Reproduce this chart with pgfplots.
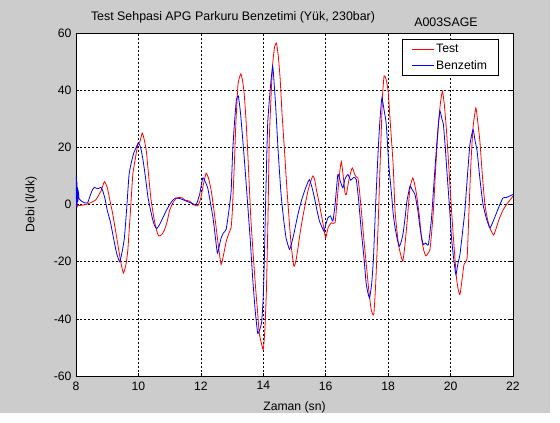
\documentclass[border=0pt]{standalone}
\usepackage{pgfplots}
\pgfplotsset{compat=1.18}
\usepackage{fontspec}
\setmainfont{Liberation Sans}
\definecolor{figgrey}{RGB}{204,204,204}
\begin{document}
\begin{tikzpicture}[x=1pt,y=1pt]
\fill[white] (0,0) rectangle (560,423);
\fill[figgrey] (0,10) rectangle (550,423);
\node[font=\fontsize{12.4}{14}\selectfont,anchor=base] at (233,402) {Test Sehpasi APG Parkuru Benzetimi (Yük, 230bar)};
\node[font=\fontsize{12.4}{14}\selectfont,anchor=base] at (446,396) {A003SAGE};
\begin{axis}[
  at={(76pt,47pt)}, anchor=south west,
  width=437pt, height=343pt, scale only axis,
  xmin=8, xmax=22, ymin=-60, ymax=60,
  xtick={8,10,...,22}, ytick={-60,-40,...,60},
  yticklabels={{-60},{-40},{-20},{0},{20},{40},{60}},
  xticklabels={8,10,12,14,16,18,20,22},
  tick align=inside, major tick length=3pt,
  tick style={black, line width=0.5pt},
  axis background/.style={fill=white},
  axis line style={black, line width=0.6pt},
  grid=major,
  major grid style={black, line width=0.5pt, dash pattern=on 2pt off 2pt},
  ticklabel style={font=\fontsize{12.2}{14}\selectfont},
  xticklabel style={yshift=-2pt},
  yticklabel style={xshift=-1pt},
  xlabel={Zaman (sn)}, ylabel={Debi (l/dk)},
  label style={font=\fontsize{12.2}{14}\selectfont},
  xlabel style={yshift=-5pt},
  ylabel style={yshift=10pt},
  legend style={at={(rel axis cs:0.746,0.982)}, anchor=north west, fill=white,
    font=\fontsize{12.2}{14}\selectfont, inner xsep=9pt, inner ysep=3pt, row sep=2pt},
  legend cell align=left,
]
\addplot[red, line width=0.8pt, smooth, tension=0.3, forget plot] coordinates {
(8.0,-0.5) (8.15,-0.3) (8.32,0) (8.5,0.8) (8.64,1.7) (8.8,4.7) (8.91,8) (9.0,6) (9.07,2.3) (9.18,-3.5)
(9.34,-14) (9.45,-21) (9.52,-24) (9.6,-21) (9.66,-16) (9.74,-3) (9.82,10.5) (9.9,16) (9.98,21) (10.05,22)
(10.12,25) (10.18,23) (10.25,19) (10.32,11) (10.4,2) (10.5,-5) (10.58,-9) (10.65,-11) (10.75,-10.5) (10.83,-9)
(10.92,-6) (11.0,-2) (11.1,0.5) (11.2,2) (11.3,2.5) (11.4,2.3) (11.5,1.5) (11.64,1.2) (11.75,0) (11.9,-0.5)
(12.0,2.3) (12.08,7) (12.17,11) (12.25,9) (12.33,5) (12.42,-2) (12.5,-9) (12.58,-16) (12.65,-21) (12.72,-18)
(12.81,-13) (12.9,-10) (12.97,-8) (13.01,-2) (13.08,16) (13.12,28) (13.19,42) (13.28,45.7) (13.34,43) (13.39,38.5)
(13.45,29) (13.5,18.7) (13.55,7) (13.6,-4.7) (13.68,-18) (13.76,-30) (13.82,-38) (13.87,-45) (13.95,-49) (14.0,-50.7)
(14.05,-44) (14.1,-30) (14.15,-5) (14.19,22) (14.25,38) (14.3,49) (14.36,55) (14.42,56.5) (14.48,52) (14.54,44)
(14.6,32) (14.68,18.7) (14.76,5) (14.84,-7) (14.9,-15) (14.98,-21.6) (15.04,-20) (15.1,-16) (15.18,-10) (15.26,-4.7)
(15.35,0.5) (15.43,4.7) (15.5,7.5) (15.59,10) (15.65,8.5) (15.71,4.7) (15.8,0) (15.88,-4.7) (15.95,-9) (16.0,-11.7)
(16.08,-8) (16.18,-6.4) (16.3,-6.4) (16.37,2) (16.44,10.5) (16.5,15) (16.56,10) (16.62,4) (16.66,3.5) (16.75,9)
(16.85,12.8) (16.95,10) (17.03,9.3) (17.08,5) (17.14,-2) (17.22,-12) (17.3,-21) (17.38,-30) (17.46,-37) (17.54,-38.5)
(17.6,-28) (17.68,-7) (17.73,10) (17.78,25.7) (17.82,38) (17.87,45) (17.93,44) (18.0,39.6) (18.06,30) (18.16,14)
(18.22,-2) (18.28,-9) (18.33,-14) (18.4,-17.5) (18.47,-19.8) (18.53,-15) (18.6,-7) (18.7,5.8) (18.79,9.3) (18.85,7)
(18.91,3.5) (19.0,-4) (19.07,-11.7) (19.14,-16) (19.21,-18) (19.28,-17) (19.34,-15.7) (19.4,-9) (19.45,-2) (19.53,14)
(19.61,28) (19.68,36) (19.74,39.6) (19.8,35) (19.87,25.7) (19.95,12) (20.03,-2) (20.1,-13) (20.19,-25.7) (20.25,-30)
(20.3,-31.5) (20.36,-27) (20.43,-21) (20.53,-18.7) (20.58,-5) (20.65,14) (20.72,27) (20.81,33.8) (20.87,29) (20.94,22)
(21.02,10) (21.1,0) (21.18,-5) (21.26,-8.2) (21.38,-10.7) (21.47,-8) (21.57,-4.7) (21.68,-2) (21.79,0) (21.9,1.5) (22.0,2.9)
};
\addplot[blue, line width=0.8pt, smooth, tension=0.3, forget plot] coordinates {
(8.0,2) (8.01,10) (8.02,0) (8.03,8) (8.04,-1) (8.05,6) (8.06,1) (8.08,4) (8.1,2) (8.2,1)
(8.3,0.5) (8.37,0.5) (8.45,3) (8.52,5) (8.59,6) (8.7,5.5) (8.8,6) (8.86,4.7) (8.93,2) (9.0,-2)
(9.1,-6) (9.18,-10.5) (9.3,-17) (9.4,-20) (9.47,-17) (9.55,-11.7) (9.62,-2) (9.7,10.5) (9.78,15) (9.85,18)
(9.93,20) (10.0,21.6) (10.07,20) (10.14,16) (10.22,10) (10.3,3) (10.35,0) (10.45,-5) (10.52,-7.5) (10.59,-8.4)
(10.68,-7) (10.78,-4.7) (10.9,-2) (11.0,0) (11.1,1.5) (11.2,2.3) (11.35,2) (11.53,1.2) (11.7,0.5) (11.85,0)
(11.96,3.5) (12.06,9.3) (12.14,8) (12.22,5.8) (12.3,1) (12.39,-4.7) (12.46,-11) (12.53,-17) (12.6,-14) (12.65,-11.7)
(12.72,-10) (12.81,-8.7) (12.9,-2) (12.97,4.7) (13.02,18.7) (13.08,29) (13.14,36.7) (13.2,38) (13.27,32) (13.34,23)
(13.42,12) (13.5,0) (13.58,-12) (13.66,-25.7) (13.74,-37) (13.82,-45) (13.88,-44) (13.95,-41) (14.0,-32) (14.03,-21)
(14.08,3) (14.14,28) (14.22,40) (14.3,48.4) (14.35,42) (14.4,33.8) (14.48,18) (14.57,3.5) (14.65,-5) (14.73,-11.7)
(14.84,-15.7) (14.92,-13) (15.0,-9.3) (15.08,-5) (15.16,-1.2) (15.24,2) (15.32,4.7) (15.4,7) (15.48,8.7) (15.56,6)
(15.64,2.3) (15.72,-2) (15.8,-5.8) (15.94,-9.3) (16.0,-7) (16.07,-4.7) (16.15,-4) (16.23,-5.8) (16.3,0) (16.39,10.5)
(16.47,8) (16.55,5.8) (16.62,9) (16.71,10.5) (16.8,8.5) (16.9,9.5) (16.98,8.7) (17.05,2) (17.14,-9.3) (17.22,-18)
(17.3,-28) (17.4,-32.7) (17.47,-28) (17.53,-18.7) (17.6,0) (17.68,18.7) (17.74,30) (17.8,37.3) (17.87,33) (17.94,28)
(18.02,14) (18.1,4.7) (18.16,-3) (18.22,-8) (18.3,-12.5) (18.36,-14.6) (18.42,-13) (18.48,-10) (18.55,-4) (18.6,1)
(18.7,6.4) (18.78,5) (18.86,3.5) (18.95,-2) (19.02,-8) (19.08,-12) (19.13,-14) (19.2,-13.5) (19.29,-14) (19.39,-4.7)
(19.47,8) (19.55,20) (19.61,28) (19.66,32.7) (19.72,30) (19.77,28) (19.83,20) (19.89,10.5) (19.96,0) (20.03,-11.7)
(20.1,-19) (20.17,-24.5) (20.23,-21) (20.3,-17.5) (20.38,-10) (20.46,-2) (20.54,10) (20.62,21) (20.72,26.2) (20.79,22)
(20.85,18.7) (20.95,8) (21.04,0) (21.15,-5) (21.26,-8.2) (21.36,-6) (21.47,-3) (21.58,0) (21.68,2.3) (21.8,2.5) (21.9,3) (22.0,3.5)
};
\addlegendimage{legend image code/.code={\draw[red, line width=1pt] (0pt,0pt) -- (22pt,0pt);}}
\addlegendentry{Test}
\addlegendimage{legend image code/.code={\draw[blue, line width=1pt] (0pt,0pt) -- (22pt,0pt);}}
\addlegendentry{Benzetim}
\end{axis}
\end{tikzpicture}
\end{document}
